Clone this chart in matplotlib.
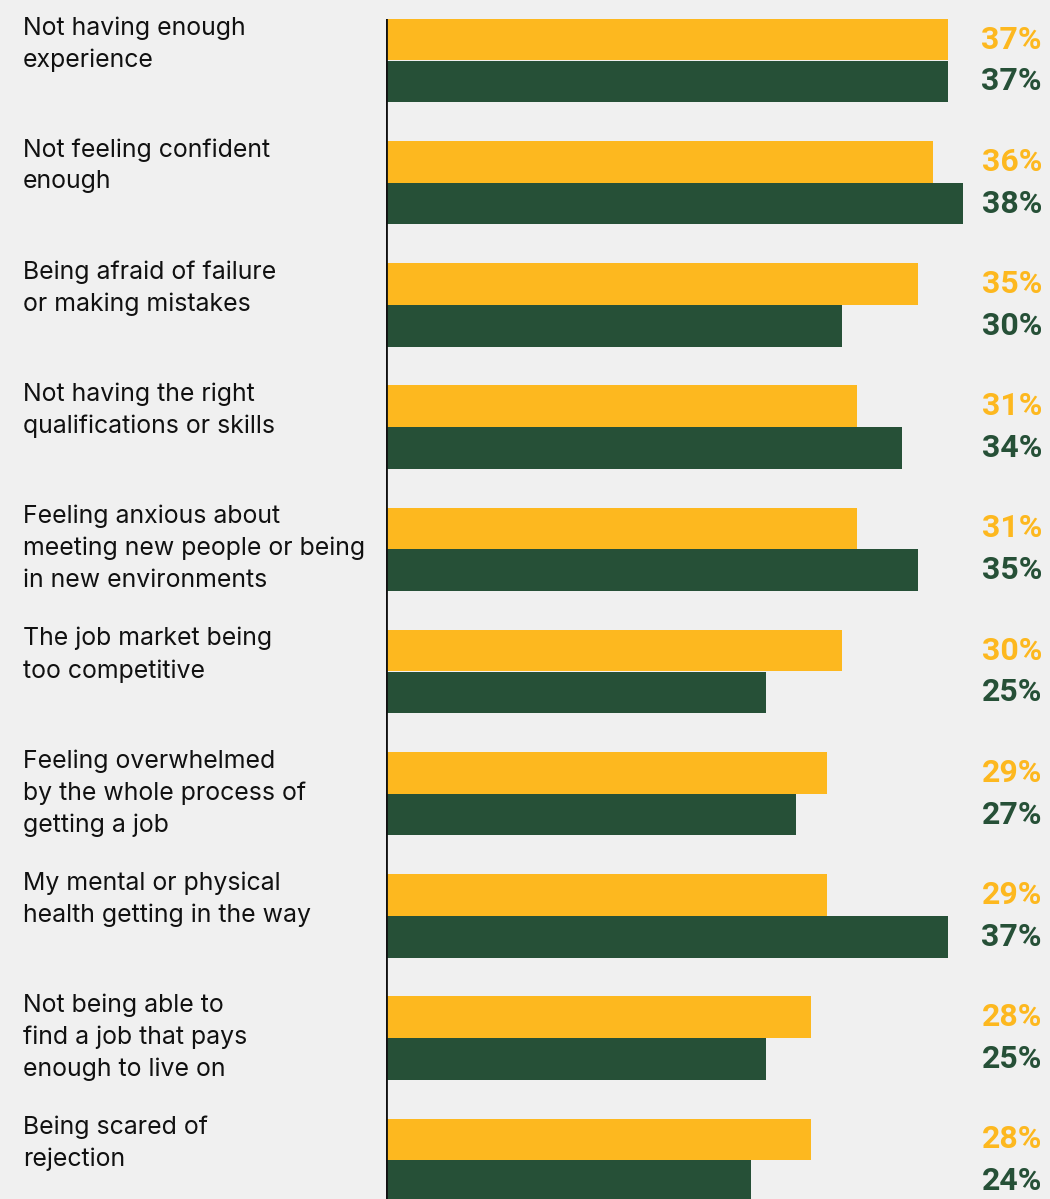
import matplotlib
matplotlib.use("Agg")
import matplotlib.pyplot as plt
import numpy as np

categories = [
    "Not having enough\nexperience",
    "Not feeling confident\nenough",
    "Being afraid of failure\nor making mistakes",
    "Not having the right\nqualifications or skills",
    "Feeling anxious about\nmeeting new people or being\nin new environments",
    "The job market being\ntoo competitive",
    "Feeling overwhelmed\nby the whole process of\ngetting a job",
    "My mental or physical\nhealth getting in the way",
    "Not being able to\nfind a job that pays\nenough to live on",
    "Being scared of\nrejection",
]
series_a = [37, 36, 35, 31, 31, 30, 29, 29, 28, 28]
series_b = [37, 38, 30, 34, 35, 25, 27, 37, 25, 24]

YELLOW = "#fdb81f"
GREEN = "#265037"
BG = "#f0f0f0"

W, H, DPI = 1050, 1199, 100
fig = plt.figure(figsize=(W / DPI, H / DPI), dpi=DPI, facecolor=BG)

# axes placed in pixel space: left edge is the vertical baseline
ax_left, ax_right, ax_top, ax_bottom = 386, 1050, 19, 1199
ax = fig.add_axes([ax_left / W, 1 - ax_bottom / H,
                   (ax_right - ax_left) / W, (ax_bottom - ax_top) / H])
ax.set_facecolor(BG)

px_per_unit = 15.19
pitch = 122.2
ax.set_xlim(0, (ax_right - ax_left) / px_per_unit)
ax.set_ylim((ax_bottom - 60.5) / pitch, (ax_top - 60.5) / pitch)

y = np.arange(len(categories))
h = 41.7 / pitch
ax.barh(y - h / 2, series_a, height=h, color=YELLOW, linewidth=0)
ax.barh(y + h / 2, series_b, height=h, color=GREEN, linewidth=0)

for s in ax.spines.values():
    s.set_visible(False)
ax.axvline(0, color="#111111", linewidth=2.0, zorder=5)
ax.set_xticks([])
ax.set_yticks([])

label_x = (1042 - ax_left) / px_per_unit
for yi, a, b in zip(y, series_a, series_b):
    ax.text(label_x, yi - h / 2, f"{a}%", ha="right", va="center",
            color=YELLOW, fontsize=23, fontweight="bold", family="Roboto",
            clip_on=False)
    ax.text(label_x, yi + h / 2, f"{b}%", ha="right", va="center",
            color=GREEN, fontsize=23, fontweight="bold", family="Roboto",
            clip_on=False)

# category labels, top-aligned with each group
for i, cat in enumerate(categories):
    top_px = 19 + pitch * i - 3
    fig.text(23 / W, 1 - top_px / H, cat, ha="left", va="top",
             fontsize=17.9, color="#111111", family="Inter",
             linespacing=1.47)

fig.savefig("out.png", dpi=DPI, facecolor=BG)
